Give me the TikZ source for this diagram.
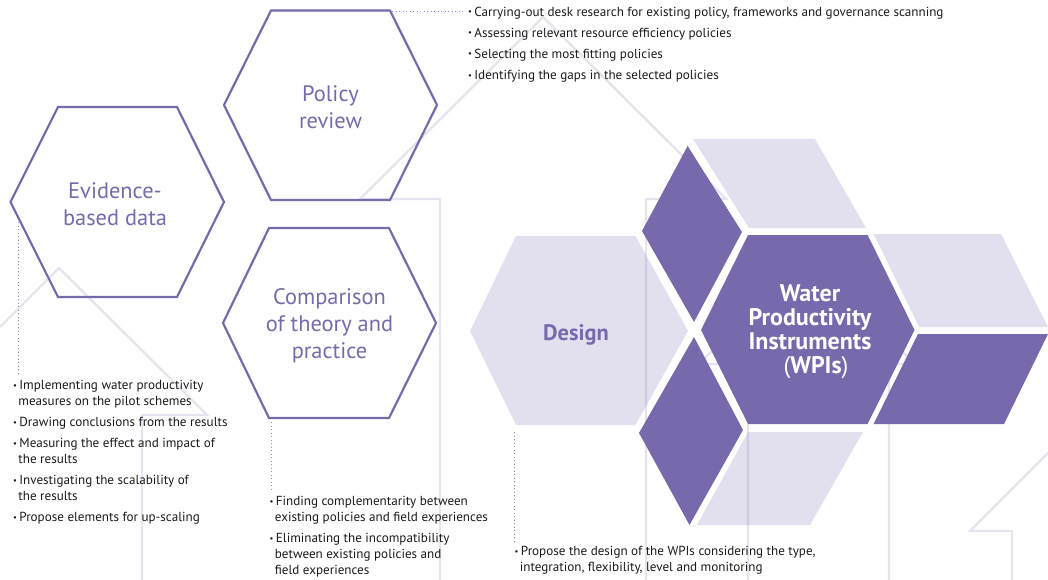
\documentclass[tikz,border=0pt]{standalone}
\usepackage{fontspec}
\setmainfont{PT Sans}
\definecolor{wpurple}{HTML}{7869AD}
\definecolor{wlight}{HTML}{E2E0EE}
\definecolor{wink}{HTML}{1A1A1A}
\newcommand{\blt}{\makebox[6.2pt][l]{\raisebox{1.2pt}{\fontsize{8.5}{8.5}\selectfont •}}}
\newcommand{\ind}{\hspace*{5.2pt}}
\tikzset{
  x=1pt,y=-1pt,
  hexline/.style={draw=wpurple,line width=2.2pt,line join=miter,fill=none},
  lightshape/.style={fill=wlight,draw=none},
  purpleshape/.style={fill=wpurple,draw=none},
  ghost/.style={draw=wpurple,draw opacity=.18,line width=2.4pt,line join=miter},
  leader/.style={draw=wpurple,draw opacity=.8,line width=.8pt,dash pattern=on .9pt off 2.6pt},
  hextext/.style={text=wpurple,font=\fontsize{22.4}{27}\selectfont,align=center,inner sep=0pt},
  item/.style={text=wink,font=\fontsize{13.1}{16}\selectfont,align=left,inner sep=0pt,anchor=north west},
}
\begin{document}
\begin{tikzpicture}
\useasboundingbox (0,0) rectangle (1048,580);
% light shapes
\fill[lightshape] (470,331)--(516,236)--(635.5,236)--(688,331)--(635.5,425)--(516,425)--cycle;
\fill[lightshape] (693,139)--(815,139)--(866,228)--(749,228)--cycle;
\fill[lightshape] (873.6,234)--(1001,234)--(1048,327)--(919,327)--cycle;
\fill[lightshape] (748,432)--(863,432)--(810,525)--(697,525)--cycle;
% ghost houses
\draw[ghost] (0,327)--(59,268)--(207,415)--(142,415)--(142,580);
\draw[ghost] (440,580)--(440,199)--(360,199)--(543,17)--(726,199)--(646,199)--(646,580);
\draw[ghost] (748,580)--(748,364)--(699,364)--(807,256)--(915,364)--(889,364)--(889,580);
\draw[ghost] (1048,453)--(970,531)--(1012,531)--(1012,580);
% purple shapes
\fill[purpleshape] (687.6,146)--(742,232)--(694,322)--(642,231)--cycle;
\fill[purpleshape] (694,337)--(743,430)--(689.5,525)--(639,433)--cycle;
\fill[purpleshape] (701,330)--(748,235)--(867.6,235)--(914.5,330)--(867.6,424)--(748,424)--cycle;
\fill[purpleshape] (918,334)--(1048,334)--(1004,424)--(873.6,424)--cycle;
% outlined hexagons
\draw[hexline] (224,105)--(271,10.5)--(390,10.5)--(437,105)--(390,200)--(271,200)--cycle;
\draw[hexline] (10.5,202)--(58,107)--(177,107)--(224,202)--(177,297)--(58,297)--cycle;
\draw[hexline] (223,323)--(269,228)--(389,228)--(436,323)--(389,418)--(269,418)--cycle;
% hexagon labels
\node[hextext] (policy) at (330.5,107.5) {Policy\\review};
\node[hextext] (evidence) at (115,204.5) {Evidence-\\based data};
\node[hextext] (comparison) at (329.5,326) {Comparison\\of theory and\\practice};
\node[hextext,font=\fontsize{22.4}{27}\selectfont\bfseries] (design) at (576,335) {Design};
\node[text=white,inner sep=0pt,align=center,font=\fontsize{24}{24}\selectfont\bfseries] (wpi) at (810,332) {Water\\Productivity\\Instruments\\\hspace*{12pt}{\mdseries(}WPIs{\mdseries)}};
% leaders
\coordinate (pa) at (392,11); \coordinate (pb) at (465,11);
\coordinate (ea) at (18,222); \coordinate (eb) at (18,373);
\coordinate (ca) at (271,422); \coordinate (cb) at (271,490);
\coordinate (da) at (514,432); \coordinate (db) at (514,542);
\draw[leader] (pa)--(pb);
\draw[leader] (ea)--(eb);
\draw[leader] (ca)--(cb);
\draw[leader] (da)--(db);
% lists
\node[item] (p1) at (468,6.5) {\blt Carrying-out desk research for existing policy, frameworks and governance scanning};
\node[item] (p2) at (468,27.5) {\blt Assessing relevant resource efficiency policies};
\node[item] (p3) at (468,48.5) {\blt Selecting the most fitting policies};
\node[item] (p4) at (468,70.5) {\blt Identifying the gaps in the selected policies};
\node[item] (e1) at (13,380.5) {\blt Implementing water productivity\\\ind measures on the pilot schemes};
\node[item] (e2) at (13,417.5) {\blt Drawing conclusions from the results};
\node[item] (e3) at (13,438.5) {\blt Measuring the effect and impact of\\\ind the results};
\node[item] (e4) at (13,475.5) {\blt Investigating the scalability of\\\ind the results};
\node[item] (e5) at (13,512.5) {\blt Propose elements for up-scaling};
\node[item] (c1) at (269.5,496.5) {\blt Finding complementarity between\\\ind existing policies and field experiences};
\node[item] (c2) at (269.5,533.5) {\blt Eliminating the incompatibility\\\ind between existing policies and\\\ind field experiences};
\node[item] (d1) at (514.5,546) {\blt Propose the design of the WPIs considering the type,\\\ind integration, flexibility, level and monitoring};
\end{tikzpicture}
\end{document}
